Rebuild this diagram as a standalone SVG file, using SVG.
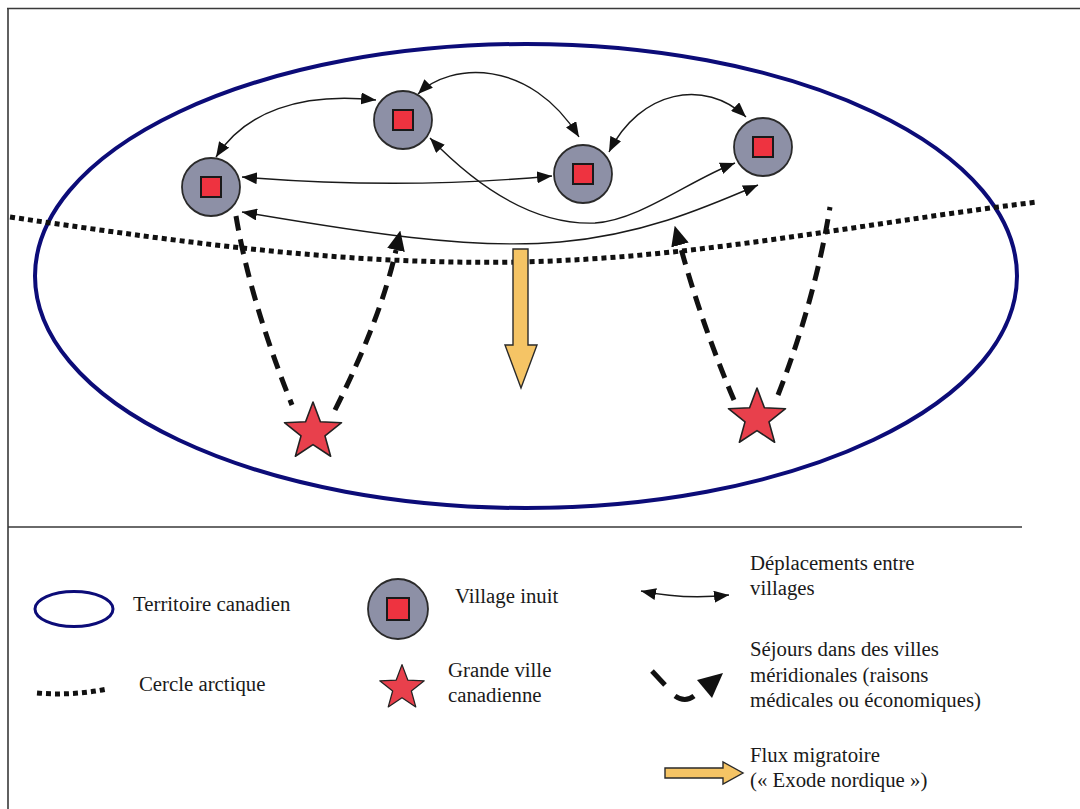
<svg xmlns="http://www.w3.org/2000/svg" width="1080" height="809" viewBox="0 0 1080 809">
<style>
.frame{fill:none;stroke:#3a3a3a;stroke-width:1.6}
.terr{fill:none;stroke:#0c0c78;stroke-width:4}
.dots{fill:none;stroke:#111;stroke-width:5;stroke-dasharray:5 4}
.vc{fill:#8d90a6;stroke:#2a2a2a;stroke-width:1.8}
.vs{fill:#ee3340;stroke:#1a1a1a;stroke-width:2}
.star{fill:#e8404c;stroke:#222;stroke-width:1.6;stroke-linejoin:round}
.thin{fill:none;stroke:#1a1a1a;stroke-width:1.4;marker-start:url(#ah);marker-end:url(#ah)}
.dash{fill:none;stroke:#111;stroke-width:5;stroke-dasharray:15 9}
.dashA{marker-end:url(#bh)}
.flow{fill:#f5c465;stroke:#2a2a2a;stroke-width:1.4;stroke-linejoin:miter}
.lbl{font-family:"Liberation Serif","Times New Roman",serif;font-size:20.8px;fill:#1a1a1a}
</style>
<defs>
<marker id="ah" viewBox="0 0 15 12" refX="15" refY="6" markerWidth="15" markerHeight="12" markerUnits="userSpaceOnUse" orient="auto-start-reverse">
<path d="M0,0 L15,6 L0,12 z" fill="#111"/>
</marker>
<marker id="bh" viewBox="0 0 20 18" refX="0" refY="9" markerWidth="20" markerHeight="18" markerUnits="userSpaceOnUse" orient="auto">
<path d="M0,0 L20,9 L0,18 z" fill="#111"/>
</marker>
<polygon id="starShape" points="0,-30 7.41,-10.19 28.53,-9.27 11.98,3.89 17.63,24.27 0,12.6 -17.63,24.27 -11.98,3.89 -28.53,-9.27 -7.41,-10.19"/>
</defs>
<rect width="1080" height="809" fill="#ffffff"/>
<g id="frame">
<path class="frame" d="M7,8.5 L1080,8.5 M8,8 L8,809 M8,527 L1022,527"/>
</g>
<g id="territoire">
<ellipse class="terr" cx="526" cy="276" rx="491" ry="232"/>
</g>
<g id="cercle-arctique">
<path class="dots" d="M10,217 C200,245 350,265 520,262 C700,258 850,225 1037,202"/>
</g>
<g id="exode">
<polygon class="flow" points="513,249 528,249 528,345 537,345 521,388 505,345 513,345"/>
</g>
<g id="connectors">
<path class="thin" d="M216,157 C245,112 300,92 376,100"/>
<path class="thin" d="M418,94 C450,62 530,58 579,137"/>
<path class="thin" d="M609,152 C640,90 705,78 746,117"/>
<path class="thin" d="M242,177 Q400,190 552,176"/>
<path class="thin" d="M430,138 C485,195 540,225 595,223 C640,220 690,180 735,163"/>
<path class="thin" d="M242,212 C360,232 470,250 560,242 C640,235 700,210 758,185"/>
<path class="dash" d="M236,216 Q250,300 292,405"/>
<path class="dash dashA" d="M335,410 Q381,318 396,250"/>
<path class="dash dashA" d="M734,400 Q702,325 680,245"/>
<path class="dash" d="M778,395 Q815,300 830,207"/>
</g>
<g id="village1"><circle class="vc" cx="211" cy="187" r="29"/><rect class="vs" x="201" y="177" width="20" height="20"/></g>
<g id="village2"><circle class="vc" cx="403" cy="120" r="29"/><rect class="vs" x="393" y="110" width="20" height="20"/></g>
<g id="village3"><circle class="vc" cx="583" cy="174" r="29"/><rect class="vs" x="573" y="164" width="20" height="20"/></g>
<g id="village4"><circle class="vc" cx="763" cy="147" r="29"/><rect class="vs" x="753" y="137" width="20" height="20"/></g>
<g id="ville1"><use href="#starShape" class="star" transform="translate(313,432)"/></g>
<g id="ville2"><use href="#starShape" class="star" transform="translate(757,418)"/></g>
<g id="legend">
<g id="leg-territoire">
<ellipse cx="74" cy="609" rx="39" ry="17.5" fill="none" stroke="#0c0c78" stroke-width="3"/>
<text class="lbl" x="133" y="611">Territoire canadien</text>
</g>
<g id="leg-cercle">
<path class="dots" d="M37,693 Q72,696 107,689"/>
<text class="lbl" x="139" y="691">Cercle arctique</text>
</g>
<g id="leg-village">
<circle class="vc" cx="398" cy="609" r="30"/><rect class="vs" x="387" y="598" width="22" height="22"/>
<text class="lbl" x="455" y="603">Village inuit</text>
</g>
<g id="leg-ville">
<use href="#starShape" class="star" transform="translate(402,688) scale(0.78)"/>
<text class="lbl" x="448" y="677">Grande ville</text>
<text class="lbl" x="448" y="702">canadienne</text>
</g>
<g id="leg-deplacements">
<path class="thin" d="M641,591 Q685,600 729,595"/>
<text class="lbl" x="750" y="570">Déplacements entre</text>
<text class="lbl" x="750" y="595">villages</text>
</g>
<g id="leg-sejours">
<path d="M652,671 L665,685" stroke="#111" stroke-width="5" fill="none"/>
<path d="M675,696 Q685,703 694,696" stroke="#111" stroke-width="5" fill="none"/>
<polygon points="697,680 723,673 712,698" fill="#111"/>
<text class="lbl" x="750" y="656">Séjours dans des villes</text>
<text class="lbl" x="750" y="682">méridionales (raisons</text>
<text class="lbl" x="750" y="707">médicales ou économiques)</text>
</g>
<g id="leg-flux">
<polygon class="flow" points="665,768 723,768 723,762 743,773 723,784 723,778 665,778"/>
<text class="lbl" x="750" y="762">Flux migratoire</text>
<text class="lbl" x="750" y="787">(« Exode nordique »)</text>
</g>
</g>
</svg>
